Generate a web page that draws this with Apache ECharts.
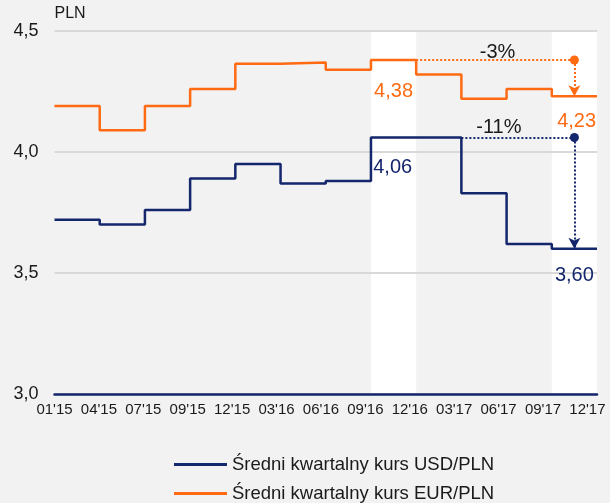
<!DOCTYPE html>
<html>
<head>
<meta charset="utf-8">
<script src="https://cdn.jsdelivr.net/npm/echarts@6/dist/echarts.min.js"></script>
<style>
html, body { margin: 0; padding: 0; background: #f2f2f2; }
#chart { width: 610px; height: 503px; }
</style>
</head>
<body>
<div id="chart"></div>
<script>
// kwartały (granice)
const xLabels = ["01'15", "04'15", "07'15", "09'15", "12'15", "03'16", "06'16", "09'16", "12'16", "03'17", "06'17", "09'17", "12'17"];
const usdValues = [3.72, 3.70, 3.76, 3.89, 3.95, 3.87, 3.88, 4.06, 4.06, 3.83, 3.62, 3.60];
const eurValues = [4.19, 4.09, 4.19, 4.26, 4.365, 4.37, 4.34, 4.38, 4.32, 4.22, 4.26, 4.23];
// podświetlone kwartały (od, do)
const highlight = [[7, 8], [11, 12]];
const usdName = 'Średni kwartalny kurs USD/PLN';
const eurName = 'Średni kwartalny kurs EUR/PLN';

const navy = '#14266c';
const orange = '#ff6a13';

function fmt(v) { return v.toFixed(2).replace('.', ','); }
function stepData(arr) {
    const d = arr.map((v, i) => [i, v]);
    d.push([arr.length, arr[arr.length - 1]]);
    return d;
}
const last = usdValues.length - 1;
const peak = 7;
const usdChange = Math.round((usdValues[last] / usdValues[peak] - 1) * 100) + '%';
const eurChange = Math.round((eurValues[last] / eurValues[peak] - 1) * 100) + '%';
const mid = last + 0.5;

// etykiety osi X są trochę ciaśniej niż kwartały - lekkie przesunięcie w lewo
const labelRich = {};
xLabels.forEach((l, i) => {
    labelRich['s' + i] = { fontSize: 15, color: '#1a1a1a', padding: [0, i * 1.6, 0, 0] };
});

function textPoint(coord, text, color) {
    return {
        coord: coord,
        symbol: 'circle',
        symbolSize: 1,
        itemStyle: { color: 'rgba(0,0,0,0)' },
        label: { show: true, position: 'inside', formatter: text, color: color, fontSize: 20 }
    };
}
function legendItem(name, top) {
    return {
        data: [name],
        left: 174,
        top: top,
        padding: 0,
        icon: 'rect',
        itemWidth: 53,
        itemHeight: 3,
        selectedMode: false,
        textStyle: { fontSize: 18.5, color: '#1a1a1a' }
    };
}

const chart = echarts.init(document.getElementById('chart'));
chart.setOption({
    animation: false,
    backgroundColor: '#f2f2f2',
    textStyle: { fontFamily: '"Liberation Sans", Arial, sans-serif' },
    grid: { left: 54.5, right: 13, top: 31, bottom: 109, outerBoundsMode: 'none' },
    legend: [legendItem(usdName, 455), legendItem(eurName, 484)],
    xAxis: {
        type: 'value',
        min: 0,
        max: 12,
        interval: 1,
        axisLine: { show: true, lineStyle: { color: navy, width: 2.5 } },
        axisTick: { show: false },
        splitLine: { show: false },
        axisLabel: {
            formatter: v => '{s' + v + '|' + xLabels[v] + '}',
            color: '#1a1a1a',
            fontSize: 15,
            margin: 8,
            showMinLabel: true,
            showMaxLabel: true,
            hideOverlap: false,
            rich: labelRich
        }
    },
    yAxis: {
        type: 'value',
        min: 3,
        max: 4.5,
        interval: 0.5,
        name: 'PLN',
        nameLocation: 'end',
        nameGap: 9,
        nameTextStyle: { align: 'left', fontSize: 16, color: '#1a1a1a' },
        axisLine: { show: false },
        axisTick: { show: false },
        axisLabel: {
            formatter: v => v.toFixed(1).replace('.', ','),
            color: '#1a1a1a',
            fontSize: 18,
            margin: 16
        },
        splitLine: { lineStyle: { color: '#d9d9d9', width: 2 } }
    },
    series: [
        {
            name: 'bands',
            type: 'line',
            z: -1,
            data: [],
            silent: true,
            markArea: {
                silent: true,
                z: -1,
                itemStyle: { color: '#ffffff' },
                data: highlight.map(h => [{ xAxis: h[0] }, { xAxis: h[1] }])
            }
        },
        {
            name: usdName,
            type: 'line',
            step: 'end',
            showSymbol: false,
            data: stepData(usdValues),
            lineStyle: { color: navy, width: 2.5 },
            itemStyle: { color: navy },
            markLine: {
                silent: true,
                label: { show: false },
                lineStyle: { color: navy, type: 'dotted', width: 2 },
                data: [
                    [{ coord: [peak + 2, usdValues[peak]], symbol: 'none' },
                     { coord: [mid, usdValues[peak]], symbol: 'circle', symbolSize: 9 }],
                    [{ coord: [mid, usdValues[peak]], symbol: 'none' },
                     { coord: [mid, usdValues[last]], symbol: 'arrow', symbolSize: [9, 11] }]
                ]
            },
            markPoint: {
                silent: true,
                data: [
                    textPoint([peak + 0.48, 3.935], fmt(usdValues[peak]), navy),
                    textPoint([mid, 3.49], fmt(usdValues[last]), navy),
                    textPoint([9.83, 4.1], usdChange, '#1a1a1a')
                ]
            }
        },
        {
            name: eurName,
            type: 'line',
            step: 'end',
            showSymbol: false,
            data: stepData(eurValues),
            lineStyle: { color: orange, width: 2.5 },
            itemStyle: { color: orange },
            markLine: {
                silent: true,
                label: { show: false },
                lineStyle: { color: orange, type: 'dotted', width: 2 },
                data: [
                    [{ coord: [peak + 1, eurValues[peak]], symbol: 'none' },
                     { coord: [mid, eurValues[peak]], symbol: 'circle', symbolSize: 9 }],
                    [{ coord: [mid, eurValues[peak]], symbol: 'none' },
                     { coord: [mid, eurValues[last]], symbol: 'arrow', symbolSize: [9, 11] }]
                ]
            },
            markPoint: {
                silent: true,
                data: [
                    textPoint([peak + 0.5, 4.25], fmt(eurValues[peak]), orange),
                    textPoint([mid + 0.05, 4.125], fmt(eurValues[last]), orange),
                    textPoint([9.8, 4.413], eurChange, '#1a1a1a')
                ]
            }
        }
    ]
});
</script>
</body>
</html>
